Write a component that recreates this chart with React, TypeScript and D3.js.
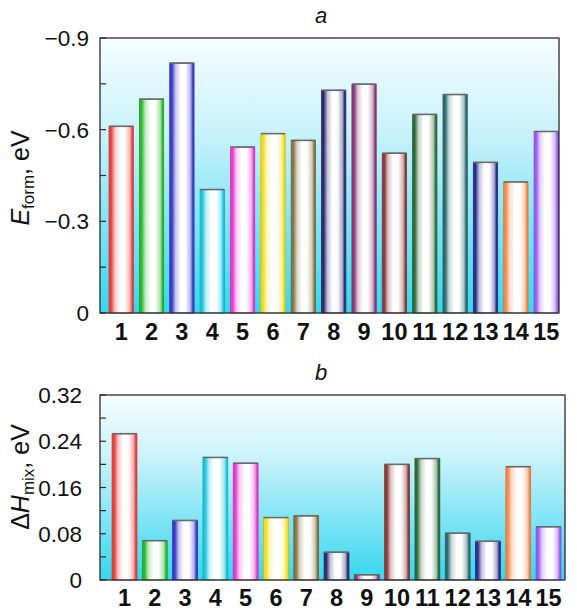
import React from "react";
import * as d3 from "d3";

const categories = ["1","2","3","4","5","6","7","8","9","10","11","12","13","14","15"];
const eForm = [-0.611,-0.700,-0.818,-0.404,-0.543,-0.587,-0.565,-0.729,-0.749,-0.523,-0.650,-0.715,-0.493,-0.429,-0.594];
const hMix = [0.253,0.068,0.103,0.212,0.202,0.108,0.111,0.048,0.009,0.200,0.210,0.081,0.067,0.196,0.092];
const barColors = ["#e8423f","#2cb82c","#3b3bc8","#1ec6dc","#e83ccf","#f2dc1c","#857544","#2d2d6e","#8a3c78","#8c3b3b","#2e6b3a","#2d6b6e","#2e2e8c","#f5894a","#9a5cf0"];
const topTicks = [0,-0.3,-0.6,-0.9];
const topMinor = [-0.15,-0.45,-0.75];
const botTicks = [0,0.08,0.16,0.24,0.32];
const botMinor = [0.04,0.12,0.2,0.28];

const W = 577, H = 616;
const FONT = "'Liberation Sans', Arial, sans-serif";

function mix(c: string, t: number) {
  return d3.interpolateRgb(c, "#ffffff")(t);
}

type PanelProps = {
  id: string;
  values: number[];
  domain: [number, number];
  frame: { x0: number; x1: number; y0: number; y1: number };
  band: [number, number];
  padInner: number;
  ticks: number[];
  minor: number[];
  fmt: (v: number) => string;
  labelX: number;
  xLabelY: number;
  title: string;
  titleY: number;
  yTitle: React.ReactNode;
  yTitleX: number;
  yTitleY: number;
};

function Panel(p: PanelProps) {
  const { x0, x1, y0, y1 } = p.frame;
  const y = d3.scaleLinear().domain(p.domain).range([y1, y0]);
  const x = d3.scaleBand<string>().domain(categories).range(p.band).paddingInner(p.padInner).paddingOuter(0.1);
  const bw = x.bandwidth();
  return (
    <g>
      <defs>
        <linearGradient id={`bg-${p.id}`} x1="0" y1="0" x2="0" y2="1">
          <stop offset="0%" stopColor="#f6fdff" />
          <stop offset="35%" stopColor="#c8f2fa" />
          <stop offset="100%" stopColor="#36d7ef" />
        </linearGradient>
        {barColors.map((c, i) => (
          <linearGradient key={i} id={`bar-${p.id}-${i}`} x1="0" y1="0" x2="1" y2="0">
            <stop offset="0%" stopColor={c} />
            <stop offset="9%" stopColor={c} />
            <stop offset="24%" stopColor={mix(c, 0.7)} />
            <stop offset="45%" stopColor="#ffffff" />
            <stop offset="65%" stopColor="#ffffff" />
            <stop offset="86%" stopColor={mix(c, 0.6)} />
            <stop offset="95%" stopColor={c} />
            <stop offset="100%" stopColor={c} />
          </linearGradient>
        ))}
      </defs>
      <rect x={x0} y={y0} width={x1 - x0} height={y1 - y0} fill={`url(#bg-${p.id})`} />
      {p.values.map((v, i) => {
        const yt = y(v);
        const xb = x(categories[i])!;
        return (
          <g key={i}>
            <rect x={xb} y={yt} width={bw} height={y1 - yt} fill={`url(#bar-${p.id}-${i})`}
              stroke={d3.color(barColors[i])!.darker(0.5).formatHex()} strokeWidth={0.8} />
            <line x1={xb} x2={xb + bw} y1={yt} y2={yt} stroke="#6a6a6a" strokeWidth={1.6} />
          </g>
        );
      })}
      <rect x={x0} y={y0} width={x1 - x0} height={y1 - y0} fill="none" stroke="#2b2b2b" strokeWidth={1.3} />
      {p.ticks.concat(p.minor).map((t, i) => (
        <line key={i} x1={x0} x2={x0 + 6} y1={y(t)} y2={y(t)} stroke="#2b2b2b" strokeWidth={1.2} />
      ))}
      {p.ticks.map((t, i) => (
        <text key={i} x={p.labelX} y={y(t)} dy="0.36em" textAnchor="end" fontSize={22.5} fontFamily={FONT} fill="#111">
          {p.fmt(t)}
        </text>
      ))}
      {categories.map((c, i) => (
        <text key={i} x={x(c)! + bw / 2} y={p.xLabelY} textAnchor="middle" fontSize={23.5} fontWeight="bold" fontFamily={FONT} fill="#111">
          {c}
        </text>
      ))}
      <text x={321} y={p.titleY} textAnchor="middle" fontSize={22} fontStyle="italic" fontFamily={FONT} fill="#111">
        {p.title}
      </text>
      <text transform={`translate(${p.yTitleX},${p.yTitleY}) rotate(-90)`} textAnchor="middle" fontSize={25} fontFamily={FONT} fill="#111">
        {p.yTitle}
      </text>
    </g>
  );
}

export default function App() {
  const fmtTop = (v: number) => (v === 0 ? "0" : "\u2212" + Math.abs(v).toFixed(1));
  const fmtBot = (v: number) => (v === 0 ? "0" : v.toFixed(2));
  return (
    <svg width={W} height={H} style={{ position: "absolute", left: 0, top: 0, background: "#fff" }}>
      <Panel
        id="a"
        values={eForm}
        domain={[0, -0.9]}
        frame={{ x0: 100, x1: 559, y0: 38, y1: 313 }}
        band={[106, 561.4]}
        padInner={0.2}
        ticks={topTicks}
        minor={topMinor}
        fmt={fmtTop}
        labelX={89}
        xLabelY={340}
        title="a"
        titleY={23}
        yTitle={<>
          <tspan fontStyle="italic">E</tspan>
          <tspan fontSize={17} dy={5}>form</tspan>
          <tspan dy={-5}>, eV</tspan>
        </>}
        yTitleX={29}
        yTitleY={178}
      />
      <Panel
        id="b"
        values={hMix}
        domain={[0, 0.32]}
        frame={{ x0: 100, x1: 565, y0: 395, y1: 580 }}
        band={[109.05, 564]}
        padInner={0.18}
        ticks={botTicks}
        minor={botMinor}
        fmt={fmtBot}
        labelX={82}
        xLabelY={606}
        title="b"
        titleY={380}
        yTitle={<>
          <tspan>Δ</tspan>
          <tspan fontStyle="italic">H</tspan>
          <tspan fontSize={17} dy={5}>mix</tspan>
          <tspan dy={-5}>, eV</tspan>
        </>}
        yTitleX={29}
        yTitleY={477}
      />
    </svg>
  );
}
